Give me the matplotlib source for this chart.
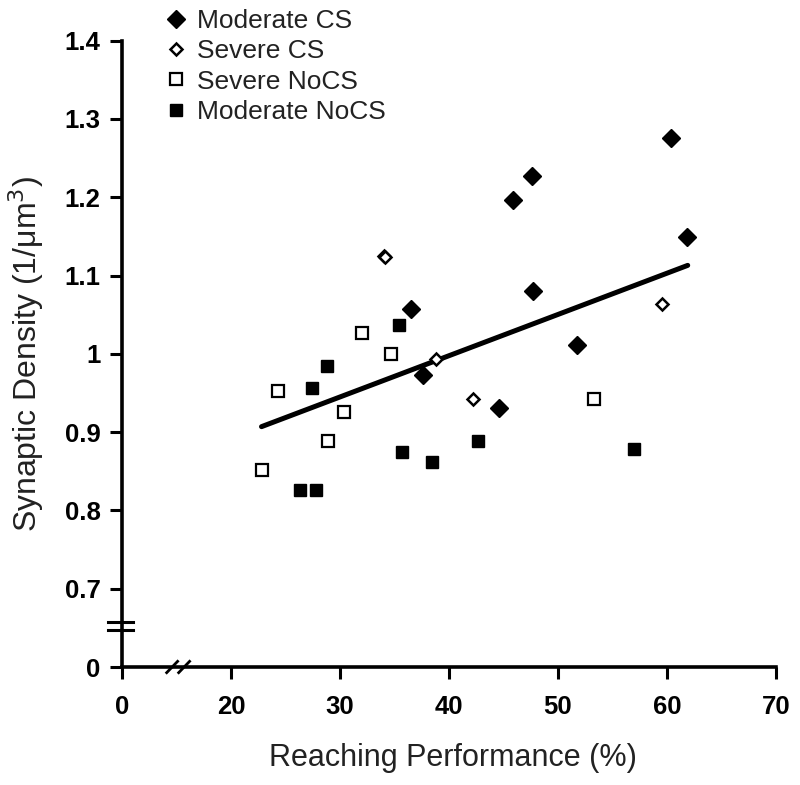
import matplotlib
matplotlib.use("Agg")
import matplotlib.pyplot as plt
import matplotlib.transforms as mtransforms
from matplotlib.lines import Line2D

plt.rcParams['font.family'] = ['Liberation Sans', 'DejaVu Sans']

# ---- data ----
mod_cs_x = [47.6, 45.9, 47.7, 36.5, 37.6, 44.6, 60.4, 61.8, 51.7]
mod_cs_y = [1.227, 1.196, 1.080, 1.057, 0.973, 0.931, 1.276, 1.149, 1.011]

sev_cs_x = [34.05, 34.12, 38.8, 42.2, 59.5]
sev_cs_y = [1.1255, 1.1235, 0.994, 0.942, 1.064]

sev_nocs_x = [32.0, 34.7, 24.3, 30.4, 28.9, 22.8, 53.3]
sev_nocs_y = [1.027, 1.000, 0.952, 0.926, 0.889, 0.852, 0.942]

mod_nocs_x = [35.4, 28.8, 27.4, 42.7, 35.7, 38.4, 26.3, 27.8, 57.0]
mod_nocs_y = [1.037, 0.984, 0.957, 0.889, 0.874, 0.862, 0.826, 0.826, 0.878]

fit_x = [22.8, 61.9]
fit_y = [0.907, 1.113]

x_ticks = [10, 20, 30, 40, 50, 60, 70]
x_ticklabels = ['0', '20', '30', '40', '50', '60', '70']
y_ticks = [0.6, 0.7, 0.8, 0.9, 1.0, 1.1, 1.2, 1.3, 1.4]
y_ticklabels = ['0', '0.7', '0.8', '0.9', '1', '1.1', '1.2', '1.3', '1.4']

series_labels = ['Moderate CS', 'Severe CS', 'Severe NoCS', 'Moderate NoCS']

# ---- figure ----
fig = plt.figure(figsize=(8.0, 7.85), dpi=100)
ax = fig.add_axes([0.1525, 0.1503, 0.97 - 0.1525, 0.9482 - 0.1503])

ax.plot(fit_x, fit_y, color='black', lw=3.6, solid_capstyle='round', zorder=2)

h1, = ax.plot(mod_cs_x, mod_cs_y, ls='none', marker='D', ms=9, mfc='black',
              mec='black', mew=1, zorder=3)
h2, = ax.plot(sev_cs_x, sev_cs_y, ls='none', marker='D', ms=6.3, mfc='white',
              mec='black', mew=1.8, zorder=4)
h3, = ax.plot(sev_nocs_x, sev_nocs_y, ls='none', marker='s', ms=8, mfc='white',
              mec='black', mew=1.6, zorder=3)
h4, = ax.plot(mod_nocs_x, mod_nocs_y, ls='none', marker='s', ms=9, mfc='black',
              mec='black', mew=1, zorder=3)

ax.set_xlim(10, 70)
ax.set_ylim(0.6, 1.4)
ax.set_xticks(x_ticks)
ax.set_xticklabels(x_ticklabels)
ax.set_yticks(y_ticks)
ax.set_yticklabels(y_ticklabels)

for s in ['top', 'right']:
    ax.spines[s].set_visible(False)
for s in ['left', 'bottom']:
    ax.spines[s].set_linewidth(2.6)

ax.tick_params(axis='both', direction='out', length=8.5, width=2.2,
               labelsize=18.5, color='black')
ax.tick_params(axis='x', pad=12)
ax.tick_params(axis='y', pad=7)
for lab in ax.get_xticklabels() + ax.get_yticklabels():
    lab.set_fontweight('bold')

ax.set_xlabel('Reaching Performance (%)', fontsize=22, color='#222222')
ax.set_ylabel('Synaptic Density (1/\u03bcm$^3$)', fontsize=23, color='#222222')
ax.xaxis.set_label_coords(0.506, -0.121)
ax.yaxis.set_label_coords(-0.116, 0.5)

# y-axis break marks
trans_y = mtransforms.blended_transform_factory(ax.transAxes, ax.transData)
for yb in (0.6475, 0.658):
    ax.add_line(Line2D([-0.0215, 0.017], [yb, yb], transform=trans_y,
                       color='black', lw=2.2, clip_on=False, zorder=5))

# x-axis break marks
trans_x = mtransforms.blended_transform_factory(ax.transData, ax.transAxes)
for xb in (14.1, 15.2):
    ax.add_line(Line2D([xb, xb + 1.0], [-0.009, 0.009], transform=trans_x,
                       color='black', lw=2.0, clip_on=False, zorder=5))

# legend
leg = fig.legend([h1, h2, h3, h4], series_labels, loc='upper left',
                 bbox_to_anchor=(0.205, 0.992), frameon=False, fontsize=19,
                 handlelength=0.7, handletextpad=0.45, borderpad=0.1,
                 labelspacing=0.24, borderaxespad=0.0)
for t in leg.get_texts():
    t.set_color('#222222')

fig.savefig('out.png', dpi=100)
